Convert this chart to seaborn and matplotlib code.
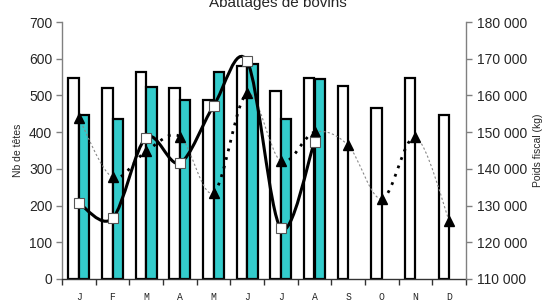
import numpy as np
import pandas as pd
import matplotlib
matplotlib.use("Agg")
import matplotlib.pyplot as plt
from matplotlib.path import Path
from matplotlib.patches import PathPatch
from matplotlib.ticker import FuncFormatter, FixedLocator
import seaborn as sns

months = ["J", "F", "M", "A", "M", "J", "J", "A", "S", "O", "N", "D"]
heads_prev = [548, 520, 564, 520, 488, 581, 513, 548, 526, 465, 548, 447]
heads_curr = [447, 436, 524, 488, 564, 586, 436, 545]
weight_curr = [130700, 126500, 148500, 141600, 157100, 169300, 123800, 147400]
weight_prev = [153900, 137700, 144800, 148800, 133500, 160600, 142100, 150000,
               146400, 131800, 148600, 125900]

sns.set_theme(style="white")
plt.rcParams["font.family"] = ["Liberation Sans", "DejaVu Sans"]

fig = plt.figure(figsize=(5.52, 3.07), dpi=100)
ax = fig.add_axes([62/552, 1-279/307, (466-62)/552, (279-22)/307])

rows = []
for i, m in enumerate(months):
    rows.append({"pos": i, "serie": "prev", "val": heads_prev[i]})
    if i < len(heads_curr):
        rows.append({"pos": i, "serie": "curr", "val": heads_curr[i]})
df = pd.DataFrame(rows)

sns.barplot(data=df, x="pos", y="val", hue="serie", hue_order=["prev", "curr"],
            palette={"prev": "white", "curr": "#33CCCC"}, width=0.62,
            edgecolor="black", linewidth=1.6, ax=ax, legend=False,
            order=list(range(12)), errorbar=None, saturation=1)

ax.set_xlim(-0.5, 11.5)
ax.set_ylim(0, 700)
ax.set_yticks(range(0, 701, 100))
ax.set_xlabel("")
ax.set_ylabel("Nb de têtes", fontsize=7.5, labelpad=4)
ax.set_xticks(range(12))
ax.set_xticklabels(months, family="Liberation Mono", fontsize=7)
ax.xaxis.set_minor_locator(FixedLocator(np.arange(-0.5, 12, 1)))
ax.tick_params(axis="x", which="major", length=0, pad=9)
ax.tick_params(axis="x", which="minor", length=4, width=1, color="#333333", direction="out", bottom=True)
ax.tick_params(axis="y", length=4, width=1, color="#808080", direction="out", left=True, labelsize=10, pad=3)
for s in ["top", "right"]:
    ax.spines[s].set_visible(False)
ax.spines["left"].set_color("#808080")
ax.spines["bottom"].set_color("#333333")
ax.spines["left"].set_linewidth(1)
ax.spines["bottom"].set_linewidth(1)

ax2 = ax.twinx()
ax2.set_ylim(110000, 180000)
ax2.set_yticks(range(110000, 180001, 10000))
ax2.yaxis.set_major_formatter(FuncFormatter(lambda v, p: f"{int(v):,}".replace(",", " ")))
ax2.tick_params(axis="y", length=4, width=1, color="#808080", direction="out", right=True, labelsize=10, pad=4)
for s in ["top", "left", "bottom"]:
    ax2.spines[s].set_visible(False)
ax2.spines["right"].set_color("#808080")
ax2.spines["right"].set_linewidth(1)
ax2.set_ylabel("Poids fiscal (kg)", fontsize=7.5, labelpad=4)


def bezier_segments(xs, ys):
    pts = np.column_stack([xs, ys]).astype(float)
    n = len(pts)
    segs = []
    for i in range(n - 1):
        p0 = pts[max(i - 1, 0)]
        p1 = pts[i]
        p2 = pts[i + 1]
        p3 = pts[min(i + 2, n - 1)]
        c1 = p1 + (p2 - p0) / 6.0
        c2 = p2 - (p3 - p1) / 6.0
        segs.append((p1, c1, c2, p2))
    return segs


# triangle series (dotted, style alternates as in the original)
xs_t = np.arange(len(weight_prev))
for p1, c1, c2, p2 in bezier_segments(xs_t, weight_prev):
    path = Path([p1, c1, c2, p2], [Path.MOVETO, Path.CURVE4, Path.CURVE4, Path.CURVE4])
    if p2[1] >= p1[1]:
        patch = PathPatch(path, fill=False, edgecolor="black", lw=2.0, linestyle=(0, (1, 2.2)), zorder=4)
    else:
        patch = PathPatch(path, fill=False, edgecolor="#888888", lw=0.8, linestyle=(0, (2, 2)), zorder=4)
    ax2.add_patch(patch)
ax2.plot(xs_t, weight_prev, linestyle="none", marker="^", markersize=7.5,
         color="black", zorder=6)

# square series (solid smooth)
xs_s = np.arange(len(weight_curr))
verts, codes = [], []
for k, (p1, c1, c2, p2) in enumerate(bezier_segments(xs_s, weight_curr)):
    if k == 0:
        verts.append(p1); codes.append(Path.MOVETO)
    verts += [c1, c2, p2]; codes += [Path.CURVE4] * 3
ax2.add_patch(PathPatch(Path(verts, codes), fill=False, edgecolor="black", lw=2.2, zorder=5))
ax2.plot(xs_s, weight_curr, linestyle="none", marker="s", markersize=6.5,
         markerfacecolor="white", markeredgecolor="#555555", markeredgewidth=0.8, zorder=7)

fig.text(278/552, 1-7/307, "Abattages de bovins", ha="center", va="baseline", fontsize=11)

fig.savefig("out.png", dpi=100)
